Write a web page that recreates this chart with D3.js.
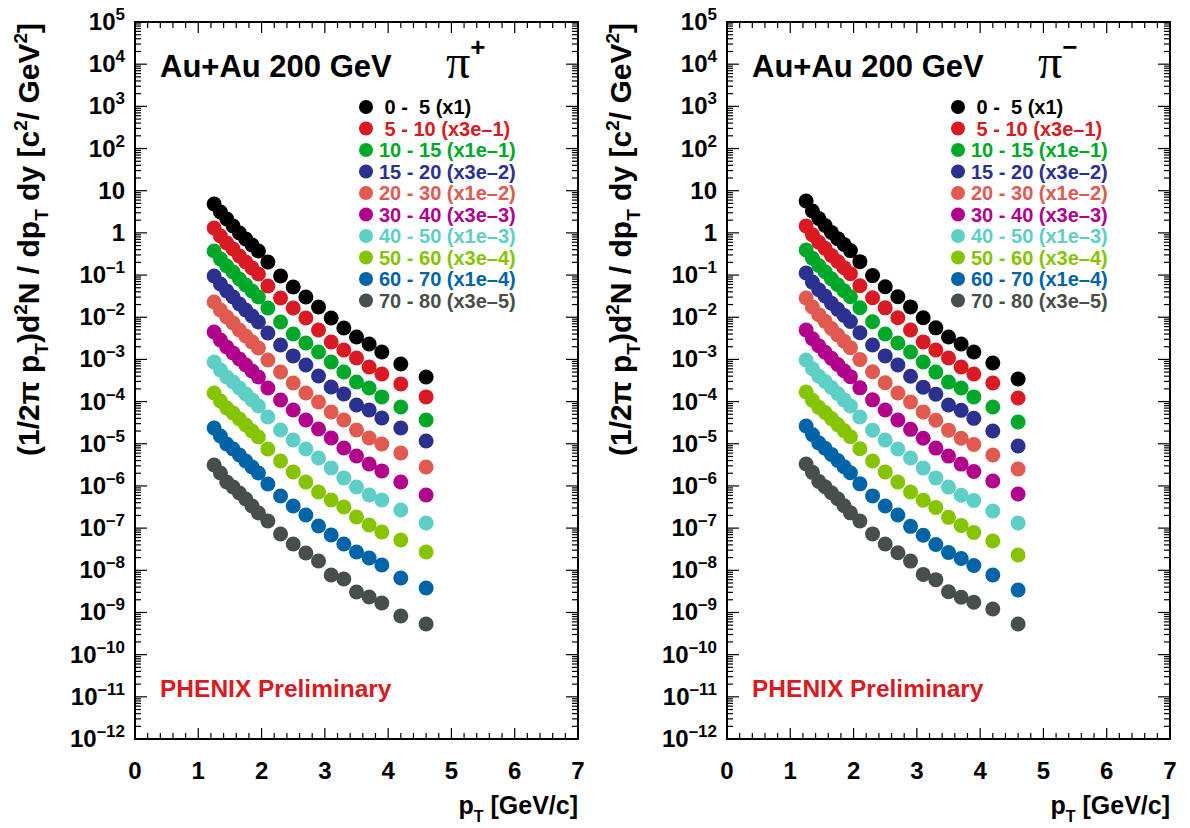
<!DOCTYPE html>
<html>
<head>
<meta charset="utf-8">
<script src="https://cdn.jsdelivr.net/npm/d3@7"></script>
<style>
  body { margin: 0; background: #ffffff; }
  svg text { font-family: "Liberation Sans", Arial, Helvetica, sans-serif; font-weight: bold; }
</style>
</head>
<body>
<svg id="chart" width="1190" height="828"></svg>
<script>
// pT bin centres (GeV/c)
const ptBins = [1.25, 1.35, 1.45, 1.55, 1.65, 1.75, 1.85, 1.95, 2.1, 2.3, 2.5, 2.7, 2.9, 3.1, 3.3, 3.5, 3.7, 3.9, 4.2, 4.6];

// centrality classes, legend text and colours
const centralityLabels = [" 0 -  5 (x1)", " 5 - 10 (x3e\u20131)", "10 - 15 (x1e\u20131)", "15 - 20 (x3e\u20132)", "20 - 30 (x1e\u20132)",
                          "30 - 40 (x3e\u20133)", "40 - 50 (x1e\u20133)", "50 - 60 (x3e\u20134)", "60 - 70 (x1e\u20134)", "70 - 80 (x3e\u20135)"];
const centralityColors = ["#000000", "#da1a22", "#00a829", "#2c3190", "#e05a50", "#b0008c", "#5ecfc6", "#86c400", "#0064a8", "#474f4a"];

// pi+ invariant yields, already multiplied by the legend scale factor
const piPlus_0_5   = [4.84, 3.13, 2.14, 1.46, 0.995, 0.717, 0.517, 0.372, 0.204, 0.0951, 0.0522, 0.0302, 0.0175, 0.0096, 0.00556, 0.0034, 0.00232, 0.0015, 7.8e-4, 3.83e-4];
const piPlus_5_10  = [1.31, 0.844, 0.576, 0.415, 0.283, 0.204, 0.147, 0.106, 0.0551, 0.0286, 0.0166, 0.0096, 0.00499, 0.00259, 0.00167, 0.00108, 6.62e-4, 4.52e-4, 2.62e-4, 1.29e-4];
const piPlus_10_15 = [0.372, 0.241, 0.164, 0.118, 0.0807, 0.0582, 0.0419, 0.0302, 0.0166, 0.00772, 0.00401, 0.00245, 0.0015, 8.7e-4, 5.04e-4, 2.92e-4, 2.10e-4, 1.29e-4, 7.46e-5, 3.67e-5];
const piPlus_15_20 = [0.0951, 0.0614, 0.0419, 0.0302, 0.0206, 0.0149, 0.0107, 0.00772, 0.00423, 0.0022, 0.00121, 7.38e-4, 4.05e-4, 2.22e-4, 1.52e-4, 8.32e-5, 6.33e-5, 4.09e-5, 2.37e-5, 1.16e-5];
const piPlus_20_30 = [0.023, 0.0149, 0.01014, 0.00731, 0.00499, 0.00359, 0.00259, 0.00187, 9.7e-4, 5.04e-4, 2.76e-4, 1.60e-4, 9.8e-5, 5.67e-5, 3.67e-5, 2.12e-5, 1.37e-5, 9.9e-6, 6.05e-6, 2.82e-6];
const piPlus_30_40 = [0.00447, 0.00289, 0.00197, 0.00142, 0.00102, 7.38e-4, 5.32e-4, 3.83e-4, 2.10e-4, 1.09e-4, 6.33e-5, 3.67e-5, 2.24e-5, 1.37e-5, 7.95e-6, 5.14e-6, 3.32e-6, 2.27e-6, 1.24e-6, 6.11e-7];
const piPlus_40_50 = [8.7e-4, 5.62e-4, 3.83e-4, 2.92e-4, 2.10e-4, 1.52e-4, 1.09e-4, 7.87e-5, 4.32e-5, 2.12e-5, 1.23e-5, 7.53e-6, 4.6e-6, 2.67e-6, 1.55e-6, 9.46e-7, 6.11e-7, 4.65e-7, 2.69e-7, 1.32e-7];
const piPlus_50_60 = [1.60e-4, 1.03e-4, 7.06e-5, 5.37e-5, 3.87e-5, 2.79e-5, 2.01e-5, 1.45e-5, 7.53e-6, 3.91e-6, 2.15e-6, 1.24e-6, 7.2e-7, 4.65e-7, 3.17e-7, 1.84e-7, 1.19e-7, 8.11e-8, 5.24e-8, 2.72e-8];
const piPlus_60_70 = [2.37e-5, 1.53e-5, 9.9e-6, 7.53e-6, 5.43e-6, 3.91e-6, 2.82e-6, 2.03e-6, 1.11e-6, 5.79e-7, 3.35e-7, 2.05e-7, 1.12e-7, 6.88e-8, 4.21e-8, 2.72e-8, 1.96e-8, 1.34e-8, 6.58e-9, 3.81e-9];
const piPlus_70_80 = [3.14e-6, 2.03e-6, 1.24e-6, 9.46e-7, 6.82e-7, 4.91e-7, 3.35e-7, 2.29e-7, 1.48e-7, 7.27e-8, 4.21e-8, 2.58e-8, 1.66e-8, 7.75e-9, 6.23e-9, 3.06e-9, 2.33e-9, 1.68e-9, 8.27e-10, 5.34e-10];

// pi- invariant yields, already multiplied by the legend scale factor
const piMinus_0_5   = [5.70, 3.30, 2.20, 1.50, 1.02, 0.73, 0.53, 0.38, 0.208, 0.097, 0.053, 0.0305, 0.0176, 0.0097, 0.0056, 0.0034, 0.00232, 0.0015, 8.23e-4, 3.44e-4];
const piMinus_5_10  = [1.46, 0.90, 0.60, 0.43, 0.29, 0.21, 0.15, 0.108, 0.056, 0.029, 0.0167, 0.0097, 0.0050, 0.0026, 0.00167, 0.00108, 6.6e-4, 4.5e-4, 2.76e-4, 1.22e-4];
const piMinus_10_15 = [0.393, 0.25, 0.168, 0.12, 0.082, 0.059, 0.0425, 0.0305, 0.0168, 0.0078, 0.0040, 0.00245, 0.0015, 8.7e-4, 5.0e-4, 2.9e-4, 2.1e-4, 1.29e-4, 7.46e-5, 3.29e-5];
const piMinus_15_20 = [0.112, 0.068, 0.045, 0.032, 0.0215, 0.0154, 0.011, 0.0079, 0.0043, 0.0022, 0.00121, 7.4e-4, 4.0e-4, 2.2e-4, 1.5e-4, 8.3e-5, 6.2e-5, 4.0e-5, 2.01e-5, 8.87e-6];
const piMinus_20_30 = [0.0286, 0.0175, 0.0115, 0.0080, 0.0054, 0.0038, 0.0027, 0.0019, 9.9e-4, 5.1e-4, 2.8e-4, 1.6e-4, 9.8e-5, 5.7e-5, 3.6e-5, 2.1e-5, 1.35e-5, 9.6e-6, 5.43e-6, 2.53e-6];
const piMinus_30_40 = [0.00499, 0.0031, 0.0021, 0.00148, 0.00106, 7.6e-4, 5.4e-4, 3.9e-4, 2.12e-4, 1.1e-4, 6.3e-5, 3.65e-5, 2.2e-5, 1.35e-5, 7.9e-6, 5.1e-6, 3.3e-6, 2.2e-6, 1.31e-6, 6.45e-7];
const piMinus_40_50 = [9.7e-4, 6.0e-4, 4.0e-4, 3.0e-4, 2.15e-4, 1.55e-4, 1.1e-4, 7.9e-5, 4.3e-5, 2.1e-5, 1.22e-5, 7.5e-6, 4.6e-6, 2.65e-6, 1.55e-6, 9.4e-7, 6.0e-7, 4.5e-7, 2.55e-7, 1.32e-7];
const piMinus_50_60 = [1.69e-4, 1.08e-4, 7.3e-5, 5.5e-5, 3.95e-5, 2.85e-5, 2.05e-5, 1.47e-5, 7.6e-6, 3.9e-6, 2.15e-6, 1.24e-6, 7.2e-7, 4.6e-7, 3.1e-7, 1.8e-7, 1.15e-7, 7.9e-8, 4.96e-8, 2.31e-8];
const piMinus_60_70 = [2.64e-5, 1.65e-5, 1.05e-5, 7.8e-6, 5.6e-6, 4.0e-6, 2.85e-6, 2.05e-6, 1.12e-6, 5.8e-7, 3.35e-7, 2.05e-7, 1.1e-7, 6.8e-8, 4.1e-8, 2.65e-8, 1.9e-8, 1.3e-8, 7.75e-9, 3.42e-9];
const piMinus_70_80 = [3.32e-6, 2.1e-6, 1.28e-6, 9.6e-7, 6.9e-7, 4.95e-7, 3.4e-7, 2.3e-7, 1.48e-7, 7.3e-8, 4.2e-8, 2.6e-8, 1.65e-8, 8.0e-9, 6.0e-9, 3.1e-9, 2.3e-9, 1.75e-9, 1.21e-9, 5.34e-10];

const piPlusSeries  = [piPlus_0_5, piPlus_5_10, piPlus_10_15, piPlus_15_20, piPlus_20_30, piPlus_30_40, piPlus_40_50, piPlus_50_60, piPlus_60_70, piPlus_70_80];
const piMinusSeries = [piMinus_0_5, piMinus_5_10, piMinus_10_15, piMinus_15_20, piMinus_20_30, piMinus_30_40, piMinus_40_50, piMinus_50_60, piMinus_60_70, piMinus_70_80];

// axis ticks
const xTickValues = [0, 1, 2, 3, 4, 5, 6, 7];
const yTickExponents = [5, 4, 3, 2, 1, 0, -1, -2, -3, -4, -5, -6, -7, -8, -9, -10, -11, -12];

const panels = [
  { left: 135, right: 578, series: piPlusSeries,  sign: "+" },
  { left: 727, right: 1170, series: piMinusSeries, sign: "\u2212" }
];
const frameTop = 22, frameBottom = 739;

const svg = d3.select("#chart");

panels.forEach(p => {
  const g = svg.append("g");
  const x = d3.scaleLinear().domain([0, 7]).range([p.left, p.right]);
  const y = d3.scaleLog().domain([1e-12, 1e5]).range([frameBottom, frameTop]);

  // minor tick values
  const xMinor = d3.range(0, 7.0001, 0.2).filter(v => Math.abs(v - Math.round(v)) > 1e-6);
  const yMinor = [];
  for (let e = -12; e < 5; e++) for (let k = 2; k <= 9; k++) yMinor.push(k * Math.pow(10, e));
  const yMajor = yTickExponents.map(e => Math.pow(10, e));

  const tickG = g.append("g").attr("stroke", "#000").attr("stroke-width", 1.2);
  // bottom / top ticks
  [[xTickValues, 11], [xMinor, 6]].forEach(([vals, len]) => {
    tickG.selectAll(null).data(vals).join("line")
      .attr("x1", d => x(d)).attr("x2", d => x(d))
      .attr("y1", frameBottom).attr("y2", frameBottom - len);
    tickG.selectAll(null).data(vals).join("line")
      .attr("x1", d => x(d)).attr("x2", d => x(d))
      .attr("y1", frameTop).attr("y2", frameTop + len);
  });
  // left / right ticks
  [[yMajor, 12], [yMinor, 6]].forEach(([vals, len]) => {
    tickG.selectAll(null).data(vals).join("line")
      .attr("y1", d => y(d)).attr("y2", d => y(d))
      .attr("x1", p.left).attr("x2", p.left + len);
    tickG.selectAll(null).data(vals).join("line")
      .attr("y1", d => y(d)).attr("y2", d => y(d))
      .attr("x1", p.right).attr("x2", p.right - len);
  });

  // frame
  g.append("rect")
    .attr("x", p.left).attr("y", frameTop)
    .attr("width", p.right - p.left).attr("height", frameBottom - frameTop)
    .attr("fill", "none").attr("stroke", "#000").attr("stroke-width", 2);

  // x tick labels
  g.selectAll(null).data(xTickValues).join("text")
    .attr("x", d => x(d)).attr("y", 779)
    .attr("text-anchor", "middle").attr("font-size", 24)
    .text(d => d);

  // y tick labels
  yTickExponents.forEach(e => {
    const t = g.append("text")
      .attr("x", p.left - 10).attr("y", y(Math.pow(10, e)) + 8)
      .attr("text-anchor", "end").attr("font-size", 24);
    if (e === 0) { t.text("1"); return; }
    if (e === 1) { t.text("10"); return; }
    t.append("tspan").text("10");
    t.append("tspan").attr("dy", -10).attr("font-size", 17)
      .text(e < 0 ? "\u2013" + (-e) : String(e));
  });

  // x axis title
  const xt = g.append("text")
    .attr("x", p.right).attr("y", 814)
    .attr("text-anchor", "end").attr("font-size", 25);
  xt.append("tspan").text("p");
  xt.append("tspan").attr("dy", 8).attr("font-size", 16).text("T");
  xt.append("tspan").attr("dy", -8).text(" [GeV/c]");

  // y axis title (rotated, aligned to the top of the axis)
  const yt = g.append("text")
    .attr("transform", `translate(${p.left - 96},${frameTop + 1}) rotate(-90)`)
    .attr("text-anchor", "end").attr("font-size", 30)
    .style("white-space", "pre");
  const parts = [
    ["(1/2\u03c0 p", 0, 30], ["T", 9, 19], [")d", -9, 30], ["2", -12, 19], ["N / dp", 12, 30],
    ["T", 9, 19], [" dy [c", -9, 30], ["2", -12, 19], ["/ GeV", 12, 30], ["2", -12, 19], ["]", 12, 30]
  ];
  parts.forEach(([s, dy, fs]) => yt.append("tspan").attr("dy", dy).attr("font-size", fs).text(s));

  // collision system and particle
  g.append("text").attr("x", p.left + 25).attr("y", 77).attr("font-size", 31).text("Au+Au 200 GeV");
  const pt = g.append("text").attr("x", p.left + 311).attr("y", 78)
    .attr("font-size", 48).style("font-family", "'Liberation Serif', 'DejaVu Serif', serif").style("font-weight", "normal");
  pt.append("tspan").text("\u03c0");
  pt.append("tspan").attr("dy", -22).attr("font-size", 26).style("font-family", "'Liberation Sans', Arial, sans-serif")
    .style("font-weight", "bold").text(p.sign);

  g.append("text").attr("x", p.left + 25).attr("y", 697).attr("font-size", 24.5)
    .attr("fill", "#da1a22").text("PHENIX Preliminary");

  // legend
  const lg = g.append("g");
  centralityLabels.forEach((lab, i) => {
    const cy = 107 + i * 21.5;
    lg.append("circle").attr("cx", p.left + 231).attr("cy", cy).attr("r", 7).attr("fill", centralityColors[i]);
    lg.append("text").attr("x", p.left + 244).attr("y", cy + 7)
      .attr("font-size", 20).attr("fill", centralityColors[i])
      .style("white-space", "pre").text(lab);
  });

  // data points
  p.series.forEach((vals, i) => {
    g.append("g").selectAll("circle").data(vals).join("circle")
      .attr("cx", (d, j) => x(ptBins[j]))
      .attr("cy", d => y(d))
      .attr("r", 7.5)
      .attr("fill", centralityColors[i]);
  });
});
</script>
</body>
</html>
